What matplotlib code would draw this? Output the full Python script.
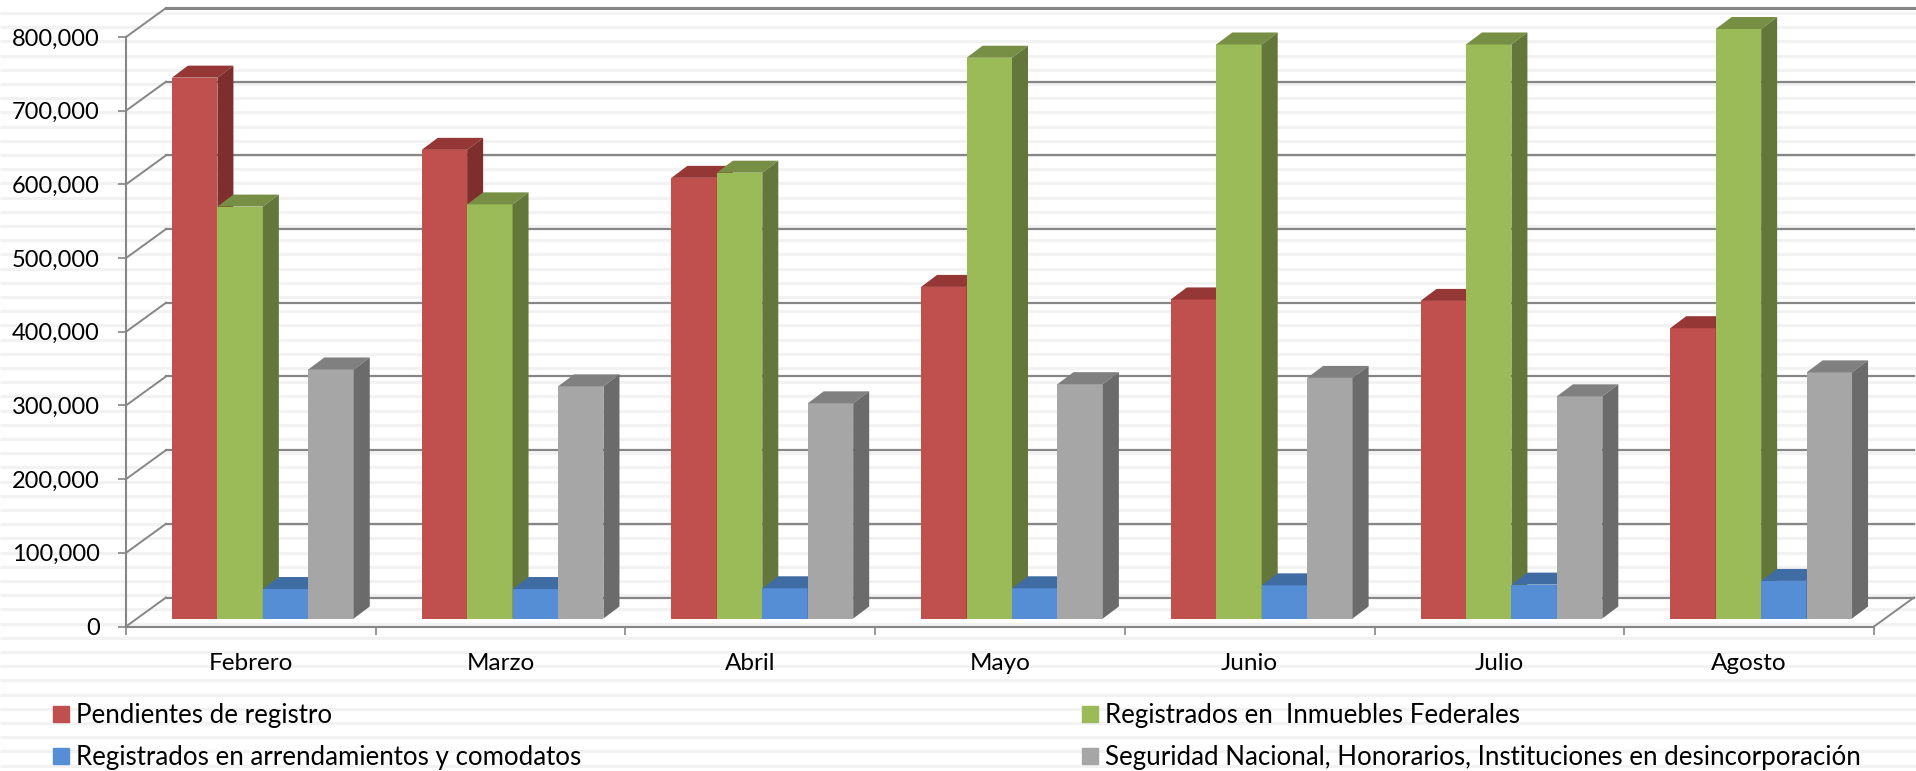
import matplotlib
matplotlib.use('Agg')
from matplotlib import pyplot as plt
from matplotlib.patches import Polygon, Patch
from matplotlib.transforms import Affine2D, IdentityTransform
import numpy as np

plt.rcParams['font.family'] = ['Lato', 'DejaVu Sans']

W, H = 1916, 771

meses = ['Febrero', 'Marzo', 'Abril', 'Mayo', 'Junio', 'Julio', 'Agosto']
pendientes = [734000, 636000, 598000, 450000, 433000, 431000, 394000]
inmuebles = [559000, 562000, 605000, 761000, 779000, 779000, 800000]
arrendamientos = [40000, 40000, 41000, 41000, 45000, 46000, 51000]
seguridad = [338000, 315000, 292000, 318000, 326500, 301500, 334000]
yticks = [0, 100000, 200000, 300000, 400000, 500000, 600000, 700000, 800000]

nombres = ['Pendientes de registro', 'Registrados en  Inmuebles Federales',
           'Registrados en arrendamientos y comodatos',
           'Seguridad Nacional, Honorarios, Instituciones en desincorporación']
series = [pendientes, inmuebles, arrendamientos, seguridad]
frente = ['#C0504D', '#9BBB59', '#558ED5', '#A6A6A6']
arriba = ['#953735', '#778F44', '#3F6CA3', '#808080']
lado = ['#7E2F2D', '#64773A', '#35598A', '#6B6B6B']
grid_color = '#868686'

# pixel offsets of the fake 3d box
wall_dx, wall_dy = 40, 29
front_dx, front_dy = 12, 8
bar_dx, bar_dy = 16, 12
bar_w = 0.182

fig = plt.figure(figsize=(W / 100, H / 100), dpi=100, facecolor='white')

# striped background of the scan
bg = fig.add_axes([0, 0, 1, 1])
bg.set_xlim(0, W)
bg.set_ylim(H, 0)
bg.axis('off')
bg.hlines(np.arange(13, H, 14.2), 0, W, color='#F2F2F2', lw=2.2)

ax = fig.add_axes([126 / W, (H - 626.5) / H, 1748 / W, 589.5 / H])
ax.patch.set_visible(False)
ax.set_xlim(0, len(meses))
ax.set_ylim(0, 800000)

# back wall, side wall
back = ax.transData + Affine2D().translate(wall_dx, wall_dy)
for v in yticks:
    top = v == yticks[-1]
    ax.plot([0, len(meses)], [v, v], transform=back, color=grid_color,
            lw=2.2 if top else 1.6, clip_on=False, zorder=1)
    x0, y0 = ax.transData.transform((0, v))
    ax.plot([x0, x0 + wall_dx], [y0, y0 + wall_dy], transform=IdentityTransform(),
            color=grid_color, lw=1.4, clip_on=False, zorder=1)
x0, y0 = ax.transData.transform((len(meses), 0))
ax.plot([x0, x0 + wall_dx], [y0, y0 + wall_dy], transform=IdentityTransform(),
        color=grid_color, lw=1.4, clip_on=False, zorder=1)

# bars, left to right so each one covers the side of the previous one
shift = Affine2D().translate(front_dx, front_dy)
centros = np.arange(len(meses)) + 0.5
for i, vals in enumerate(series):
    pos = centros + (i - 1.5) * bar_w
    ax.bar(pos, vals, bar_w, color=frente[i], transform=ax.transData + shift,
           zorder=3 + i, clip_on=False)
    for p, v in zip(pos, vals):
        xl, yb = ax.transData.transform((p - bar_w / 2, 0))
        xr, yt = ax.transData.transform((p + bar_w / 2, v))
        xl += front_dx
        xr += front_dx
        yb += front_dy
        yt += front_dy
        ax.add_patch(Polygon([(xl, yt), (xr, yt), (xr + bar_dx, yt + bar_dy), (xl + bar_dx, yt + bar_dy)],
                             facecolor=arriba[i], edgecolor='none', transform=IdentityTransform(),
                             zorder=3 + i, clip_on=False))
        ax.add_patch(Polygon([(xr, yb), (xr + bar_dx, yb + bar_dy), (xr + bar_dx, yt + bar_dy), (xr, yt)],
                             facecolor=lado[i], edgecolor='none', transform=IdentityTransform(),
                             zorder=3 + i, clip_on=False))

for s in ['top', 'right']:
    ax.spines[s].set_visible(False)
for s in ['left', 'bottom']:
    ax.spines[s].set_color(grid_color)
    ax.spines[s].set_linewidth(1.5)

ax.set_yticks(yticks)
ax.set_yticklabels([f'{v:,}' for v in yticks], fontsize=17, color='black')
ax.tick_params(axis='y', length=6, width=1.2, color=grid_color, pad=13)
ax.set_xticks(np.arange(len(meses) + 1))
ax.set_xticklabels([])
ax.tick_params(axis='x', which='major', length=6, width=1.2, color=grid_color)
ax.set_xticks(centros, minor=True)
ax.set_xticklabels(meses, minor=True, fontsize=17.5, color='black')
ax.tick_params(axis='x', which='minor', length=0, pad=19)

handles = [Patch(color=frente[0], label=nombres[0]), Patch(color=frente[2], label=nombres[2]),
           Patch(color=frente[1], label=nombres[1]), Patch(color=frente[3], label=nombres[3])]
fig.legend(handles=handles, ncol=2, loc='lower left', bbox_to_anchor=(53 / W, 1 / H),
           frameon=False, fontsize=18.6, handlelength=0.62, handleheight=0.62,
           handletextpad=0.27, labelspacing=0.65, columnspacing=19.4, borderpad=0, borderaxespad=0)

fig.savefig('out.png', dpi=100)
